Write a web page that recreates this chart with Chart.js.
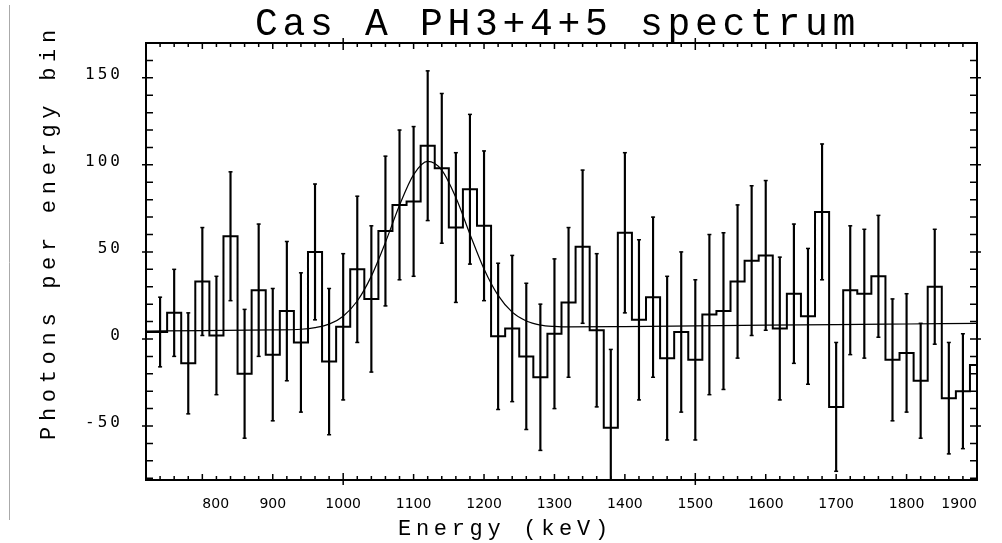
<!DOCTYPE html>
<html>
<head>
<meta charset="utf-8">
<title>Cas A PH3+4+5 spectrum</title>
<script src="https://cdn.jsdelivr.net/npm/chart.js@4.4.1/dist/chart.umd.min.js"></script>
<style>
  html, body { margin: 0; padding: 0; background: #fff; }
</style>
</head>
<body>
<canvas id="chart" width="1002" height="543"></canvas>
<script>
// 20 keV bins, centre energies (first and last bins are cut by the axis)
var binCenters = [720, 740, 760, 780, 800, 820, 840, 860, 880, 900,
  920, 940, 960, 980, 1000, 1020, 1040, 1060, 1080, 1100,
  1120, 1140, 1160, 1180, 1200, 1220, 1240, 1260, 1280, 1300,
  1320, 1340, 1360, 1380, 1400, 1420, 1440, 1460, 1480, 1500,
  1520, 1540, 1560, 1580, 1600, 1620, 1640, 1660, 1680, 1700,
  1720, 1740, 1760, 1780, 1800, 1820, 1840, 1860, 1880, 1900];

// photons per bin
var counts = [4, 4, 15, -14, 33, 2, 59, -20, 28, -9,
  16, -2, 50, -13, 7, 40, 23, 62, 77, 79,
  111, 98, 64, 86, 65, 1.5, 6, -10, -22, 3,
  21, 53, 5, -51, 61, 11, 24, -11, 4, -12,
  14, 16, 33, 45, 48, 6, 26, 13, 73, -39,
  28, 26, 36, -12, -8, -24, 30, -34, -30, -15];

// 1 sigma errors (null = no bar drawn)
var errors = [null, 20, 25, 29, 31, 34, 37, 37, 38, 38,
  40, 40, 39, 42, 42, 42, 42, 43, 43, 43,
  43, 43, 43, 43, 43, 42, 42, 42, 42, 43,
  43, 44, 44, 45, 46, 46, 46, 47, 46, 46,
  46, 45, 44, 43, 43, 41, 40, 39, 39, 37,
  37, 37, 35, 35, 34, 33, 33, 32, 33, null];

// fitted line + gaussian
var fitEnergy = [720, 800, 900, 940, 960, 980, 1000, 1020, 1040, 1060,
  1080, 1100, 1120, 1140, 1160, 1180, 1200, 1220, 1240, 1260,
  1280, 1300, 1320, 1400, 1500, 1600, 1700, 1800, 1900];
var fitCounts = [4.5, 4.8, 5.2, 5.6, 6.5, 8.5, 13.1, 21.8, 36.1, 55.5,
  76.8, 94.4, 102, 97, 81.2, 60.2, 40.2, 25, 15.4, 10.3,
  8.0, 7.2, 6.9, 7.1, 7.5, 7.9, 8.2, 8.6, 9.0];

var xTickLabels = [800, 900, 1000, 1100, 1200, 1300, 1400, 1500, 1600, 1700, 1800, 1900];
var yTickLabels = [-50, 0, 50, 100, 150];

var chartTitle = 'Cas A PH3+4+5 spectrum';
var xTitle = 'Energy (keV)';
var yTitle = 'Photons per energy bin';

var xMin = 720, xMax = 1900;
var yMin = -81, yMax = 170;

var histPoints = [], errBars = [], capPoints = [], fitPoints = [];
for (var i = 0; i < binCenters.length; i++) {
  histPoints.push({ x: binCenters[i], y: counts[i] });
  if (errors[i] !== null) {
    errBars.push({ x: binCenters[i], y: [counts[i] - errors[i], counts[i] + errors[i]] });
    capPoints.push({ x: binCenters[i], y: counts[i] - errors[i] });
    capPoints.push({ x: binCenters[i], y: counts[i] + errors[i] });
  }
}
for (var j = 0; j < fitEnergy.length; j++) {
  fitPoints.push({ x: fitEnergy[j], y: fitCounts[j] });
}

// spaced-out mono text, the way the old plot package wrote it
function spacedText(ctx, text, x, y, size, spacing, rotate) {
  ctx.save();
  ctx.font = size + 'px "Liberation Mono"';
  ctx.letterSpacing = spacing + 'px';
  ctx.fillStyle = '#000';
  ctx.textAlign = 'left';
  ctx.textBaseline = 'alphabetic';
  ctx.translate(x, y);
  if (rotate) ctx.rotate(-Math.PI / 2);
  ctx.fillText(text, 0, 0);
  ctx.restore();
}

// box round the plot with inward ticks, plus the titles
var frameTicks = {
  id: 'frameTicks',
  afterDatasetsDraw: function (chart) {
    var ctx = chart.ctx, a = chart.chartArea;
    var xs = chart.scales.x, ys = chart.scales.y;
    ctx.save();
    ctx.strokeStyle = '#000';
    ctx.lineWidth = 2;
    ctx.strokeRect(a.left, a.top, a.right - a.left, a.bottom - a.top);
    ctx.lineWidth = 1.5;
    ctx.beginPath();
    for (var v = xMin; v <= xMax; v += 20) {
      var px = xs.getPixelForValue(v);
      var len = v % 100 === 0 ? 6 : 4;
      var out = 0;
      if (v % 500 === 0) { len = 7; out = 5; }
      ctx.moveTo(px, a.bottom + out); ctx.lineTo(px, a.bottom - len);
      ctx.moveTo(px, a.top - out); ctx.lineTo(px, a.top + len);
    }
    for (var w = -80; w <= yMax; w += 10) {
      var py = ys.getPixelForValue(w);
      var o = w % 50 === 0 ? 4 : 0;
      ctx.moveTo(a.left - o, py); ctx.lineTo(a.left + 7, py);
      ctx.moveTo(a.right + o, py); ctx.lineTo(a.right - 7, py);
    }
    ctx.stroke();
    ctx.restore();
    // y labels are drawn after this (ticks z: 1), spaced out a little
    ctx.letterSpacing = '3px';
  },
  afterDraw: function (chart) {
    var ctx = chart.ctx;
    ctx.letterSpacing = '0px';
    spacedText(ctx, chartTitle, 255, 35, 38, 4.7, false);
    spacedText(ctx, xTitle, 398, 535, 22, 4.7, false);
    spacedText(ctx, yTitle, 54.5, 440, 22, 5.7, true);
    // thin grey rule at the far left of the page
    ctx.save();
    ctx.strokeStyle = '#aaa';
    ctx.lineWidth = 1;
    ctx.beginPath();
    ctx.moveTo(9.5, 5); ctx.lineTo(9.5, 520);
    ctx.stroke();
    ctx.restore();
  }
};

new Chart(document.getElementById('chart'), {
  type: 'line',
  data: {
    datasets: [
      {
        type: 'line', label: 'Fit', data: fitPoints,
        borderColor: '#000', borderWidth: 1.2, pointRadius: 0,
        cubicInterpolationMode: 'monotone', fill: false
      },
      {
        type: 'line', label: 'Counts', data: histPoints, stepped: 'middle',
        borderColor: '#000', borderWidth: 2, pointRadius: 0, fill: false
      },
      {
        type: 'bar', label: 'Errors', data: errBars,
        backgroundColor: '#000', borderWidth: 0, barThickness: 1.5
      },
      {
        type: 'scatter', label: 'Caps', data: capPoints,
        pointStyle: 'line', pointRadius: 2, borderColor: '#000', borderWidth: 1.5
      }
    ]
  },
  options: {
    responsive: false,
    animation: false,
    events: [],
    layout: { padding: { top: 43, right: 25, bottom: 0, left: 0 } },
    plugins: {
      legend: { display: false },
      tooltip: { enabled: false },
      title: { display: false }
    },
    scales: {
      x: {
        type: 'linear', min: xMin, max: xMax, offset: false,
        grid: { display: false, drawTicks: false },
        border: { display: false },
        afterBuildTicks: function (s) { s.ticks = xTickLabels.map(function (v) { return { value: v }; }); },
        ticks: {
          align: 'inner', padding: 16, maxRotation: 0, autoSkip: false, color: '#000',
          font: { family: 'DejaVu Sans', size: 14 },
          callback: function (v) { return String(v); }
        },
        afterFit: function (s) { s.height = 63; }
      },
      y: {
        type: 'linear', min: yMin, max: yMax,
        grid: { display: false, drawTicks: false },
        border: { display: false },
        afterBuildTicks: function (s) { s.ticks = yTickLabels.map(function (v) { return { value: v }; }); },
        ticks: {
          z: 1, padding: 23, labelOffset: -3, color: '#000',
          font: { family: 'DejaVu Sans Mono', size: 16 },
          callback: function (v) { return String(v); }
        },
        afterFit: function (s) { s.width = 146; }
      }
    }
  },
  plugins: [frameTicks]
});
</script>
</body>
</html>
